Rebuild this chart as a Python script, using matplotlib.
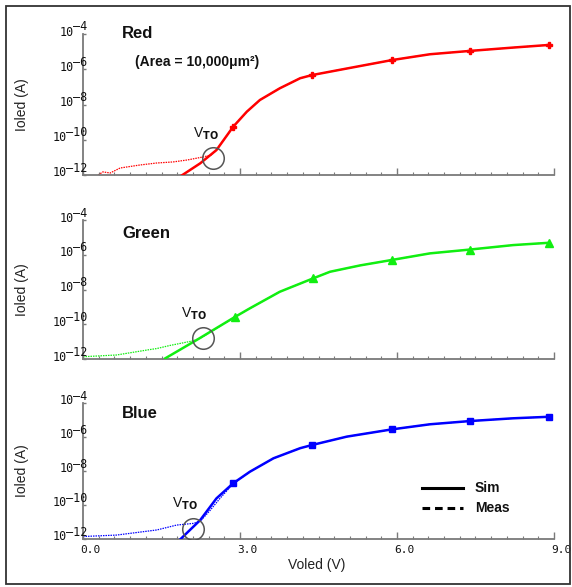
import numpy as np
import matplotlib
matplotlib.use("Agg")
import matplotlib.pyplot as plt
from matplotlib.lines import Line2D
from matplotlib.patches import Rectangle
from matplotlib.transforms import ScaledTranslation

# ---------------- data ----------------
panel_names = ["Red", "Green", "Blue"]
colors = ["#ff0000", "#11ee11", "#0000ff"]
mark_styles = ["P", "^", "s"]

red_sim_v = [1.85, 2.24, 2.55, 2.87, 3.13, 3.38, 3.76, 4.15, 4.38, 5.04, 5.90, 6.63, 7.40, 8.22, 8.91]
red_sim_i = [8e-13, 4.6e-12, 2.6e-11, 5.5e-10, 3.9e-9, 1.8e-8, 8.3e-8, 3.1e-7, 4.7e-7, 1.1e-6, 3.3e-6, 7.1e-6, 1.1e-5, 1.7e-5, 2.4e-5]
red_meas_v = [0.29, 0.38, 0.52, 0.71, 1.09, 1.41, 1.72, 1.99, 2.29, 2.45, 2.55, 2.87, 3.13, 3.38, 3.76, 4.15, 4.38, 5.04, 5.90, 6.63, 7.40, 8.22, 8.91]
red_meas_i = [1.0e-12, 1.5e-12, 1.3e-12, 2.5e-12, 3.7e-12, 4.8e-12, 5.5e-12, 7.1e-12, 1.05e-11, 1.35e-11, 2.6e-11, 5.5e-10, 3.9e-9, 1.8e-8, 8.3e-8, 3.1e-7, 4.7e-7, 1.1e-6, 3.3e-6, 7.1e-6, 1.1e-5, 1.7e-5, 2.4e-5]
red_mark_v = [2.87, 4.38, 5.90, 7.40, 8.91]
red_mark_i = [5.5e-10, 4.7e-7, 3.3e-6, 1.1e-5, 2.4e-5]

green_sim_v = [1.55, 2.17, 2.90, 3.19, 3.76, 4.40, 4.72, 5.30, 5.90, 6.63, 7.40, 8.22, 8.91]
green_sim_i = [1.0e-12, 1.23e-11, 2.6e-10, 8.3e-10, 7.4e-9, 4.4e-8, 1.05e-7, 2.45e-7, 5.0e-7, 1.2e-6, 2.0e-6, 3.6e-6, 4.9e-6]
green_meas_v = [0.0, 0.64, 1.28, 1.41, 1.66, 2.11, 2.25, 2.90, 3.19, 3.76, 4.40, 4.72, 5.30, 5.90, 6.63, 7.40, 8.22, 8.91]
green_meas_i = [1.35e-12, 1.7e-12, 3.5e-12, 4.0e-12, 6.0e-12, 1.12e-11, 1.6e-11, 2.6e-10, 8.3e-10, 7.4e-9, 4.4e-8, 1.05e-7, 2.45e-7, 5.0e-7, 1.2e-6, 2.0e-6, 3.6e-6, 4.9e-6]
green_mark_v = [2.90, 4.40, 5.90, 7.40, 8.91]
green_mark_i = [2.6e-10, 4.4e-8, 5.0e-7, 2.0e-6, 4.9e-6]

blue_sim_v = [1.85, 2.24, 2.55, 2.87, 3.19, 3.64, 4.15, 4.38, 5.04, 5.90, 6.63, 7.40, 8.22, 8.91]
blue_sim_i = [9e-13, 1.3e-11, 2.45e-10, 1.9e-9, 9.1e-9, 5.6e-8, 2.2e-7, 3.4e-7, 1.05e-6, 2.8e-6, 5.6e-6, 8.7e-6, 1.26e-5, 1.55e-5]
blue_meas_v = [0.0, 0.64, 1.41, 1.79, 2.11, 2.24, 2.42, 2.62, 2.87, 3.19, 3.64, 4.15, 4.38, 5.04, 5.90, 6.63, 7.40, 8.22, 8.91]
blue_meas_i = [1.4e-12, 1.7e-12, 3.4e-12, 6.6e-12, 8.3e-12, 1.1e-11, 4.5e-11, 2.5e-10, 1.8e-9, 9.1e-9, 5.6e-8, 2.2e-7, 3.4e-7, 1.05e-6, 2.8e-6, 5.6e-6, 8.7e-6, 1.26e-5, 1.55e-5]
blue_mark_v = [2.87, 4.38, 5.90, 7.40, 8.91]
blue_mark_i = [1.9e-9, 3.4e-7, 2.8e-6, 8.7e-6, 1.55e-5]

# V_TO circle positions (V, A)
vto_v = [2.48, 2.30, 2.10]
vto_i = [9.1e-12, 1.55e-11, 3.9e-12]

x_ticks = [0.0, 3.0, 6.0, 9.0]
x_tick_labels = ["0.0", "3.0", "6.0", "9.0"]
y_ticks = [1e-12, 1e-10, 1e-8, 1e-6, 1e-4]
y_tick_base = ["10", "10", "10", "10", "10"]
y_tick_exp = ["\u201412", "\u201410", "\u20148", "\u20146", "\u20144"]

sims = [(red_sim_v, red_sim_i), (green_sim_v, green_sim_i), (blue_sim_v, blue_sim_i)]
meas = [(red_meas_v, red_meas_i), (green_meas_v, green_meas_i), (blue_meas_v, blue_meas_i)]
marks = [(red_mark_v, red_mark_i), (green_mark_v, green_mark_i), (blue_mark_v, blue_mark_i)]
mark_sizes = [5, 5.5, 4]

# ---------------- layout ----------------
W, H = 572, 587
DPI = 100
fig = plt.figure(figsize=(W / DPI, H / DPI), dpi=DPI)
fig.patch.set_facecolor("white")

def fx(px):
    return px / W

def fy(py):
    return 1 - py / H

# (top px, bottom px) of each panel
panel_px = [(34, 175), (220, 359), (403, 539)]
left_px, right_px = 83, 554

sans = ["Liberation Sans", "DejaVu Sans"]
mono = ["DejaVu Sans Mono"]
spine_col = "#7a7a7a"
lab_size = 8.5
char_w = 0.602 * lab_size * DPI / 72.0  # px per mono char

# V_TO label positions in px (center)
vto_txt_px = [(206, 134), (194, 314), (185, 504)]
title_px = [(122, 33), (122, 233), (122, 413)]

for k in range(3):
    top, bot = panel_px[k]
    ax = fig.add_axes([fx(left_px), fy(bot), fx(right_px) - fx(left_px), (bot - top) / H])
    ax.set_yscale("log")
    ax.set_xlim(0, 9)
    ax.set_ylim(1e-12, 1e-4)

    mv, mi = meas[k]
    ax.plot(mv, mi, color=colors[k], lw=0.9, ls=(0, (1.2, 0.8)), zorder=2)
    sv, si = sims[k]
    ax.plot(sv, si, color=colors[k], lw=1.8, zorder=3, solid_capstyle="butt")
    kv, ki = marks[k]
    ax.plot(kv, ki, ls="none", marker=mark_styles[k], color=colors[k], ms=mark_sizes[k], zorder=4)

    # V_TO circle
    ax.plot([vto_v[k]], [vto_i[k]], marker="o", ms=15.5, mfc="none", mec="#555555", mew=1.1, zorder=5)

    for s in ["top", "right"]:
        ax.spines[s].set_visible(False)
    for s in ["left", "bottom"]:
        ax.spines[s].set_color(spine_col)
        ax.spines[s].set_linewidth(1.3)

    ax.set_xticks(x_ticks)
    ax.set_xticks(np.arange(0, 9.01, 0.3), minor=True)
    ax.set_yticks(y_ticks)
    ax.set_yticklabels([])
    ax.yaxis.set_minor_locator(matplotlib.ticker.NullLocator())
    ax.tick_params(axis="x", which="major", direction="in", length=5, width=1, color=spine_col)
    ax.tick_params(axis="x", which="minor", direction="in", length=2.5, width=0.8, color=spine_col)
    ax.tick_params(axis="y", which="major", direction="in", length=2, width=1, color=spine_col)

    # y tick labels "10" with a large raised exponent
    for yv, b, e in zip(y_ticks, y_tick_base, y_tick_exp):
        _, ypix = ax.transData.transform((0, yv))  # display px from bottom
        ytop = H - ypix
        right_edge = 87
        fig.text(fx(right_edge), fy(ytop - 7), e, family=mono, fontsize=lab_size,
                 ha="right", va="center", color="#111111")
        fig.text(fx(right_edge - len(e) * char_w + 1), fy(ytop - 2), b, family=mono,
                 fontsize=lab_size, ha="right", va="center", color="#111111")

    if k == 2:
        ax.set_xticklabels(x_tick_labels, family=mono, fontsize=8, color="#111111")
        ax.tick_params(axis="x", which="major", pad=4)
        off = ScaledTranslation(-3 / DPI, 0, fig.dpi_scale_trans)
        for lbl in ax.get_xticklabels():
            lbl.set_ha("left")
            lbl.set_transform(lbl.get_transform() + off)
    else:
        ax.set_xticklabels([])

    ax.set_ylabel("Ioled (A)", family=sans, fontsize=10, color="#222222")
    ax.yaxis.set_label_coords((29 - left_px) / (right_px - left_px), 0.5)

    # title
    tx, ty = title_px[k]
    fig.text(fx(tx), fy(ty), panel_names[k], family=sans, fontsize=12, fontweight="bold",
             ha="left", va="center", color="#111111")
    # V_TO text
    vx, vy = vto_txt_px[k]
    fig.text(fx(vx), fy(vy), r"V$_{\mathbf{TO}}$", family=sans, fontsize=10,
             ha="center", va="center", color="#111111")

# Area note
fig.text(fx(197), fy(62), "(Area = 10,000\u03bcm\u00b2)", family=sans, fontsize=10,
         fontweight="bold", ha="center", va="center", color="#111111")

# x label
fig.text(fx(317), fy(565), "Voled (V)", family=sans, fontsize=10, ha="center", va="center",
         color="#222222")

# legend
fig.add_artist(Line2D([fx(422), fx(463)], [fy(488), fy(488)], color="black", lw=2.2))
fig.add_artist(Line2D([fx(422), fx(463)], [fy(508), fy(508)], color="black", lw=2.2,
                      ls=(0, (2.5, 1.6))))
fig.text(fx(475), fy(488), "Sim", family=sans, fontsize=10, fontweight="bold", ha="left",
         va="center", color="#111111")
fig.text(fx(475), fy(508), "Meas", family=sans, fontsize=10, fontweight="bold", ha="left",
         va="center", color="#111111")

# outer frame
fig.add_artist(Rectangle((fx(5.5), fy(584)), fx(569.5) - fx(5.5), fy(6) - fy(584),
                         transform=fig.transFigure, fill=False, edgecolor="#333333", lw=1.3))

fig.savefig("out.png", dpi=DPI, facecolor="white")
